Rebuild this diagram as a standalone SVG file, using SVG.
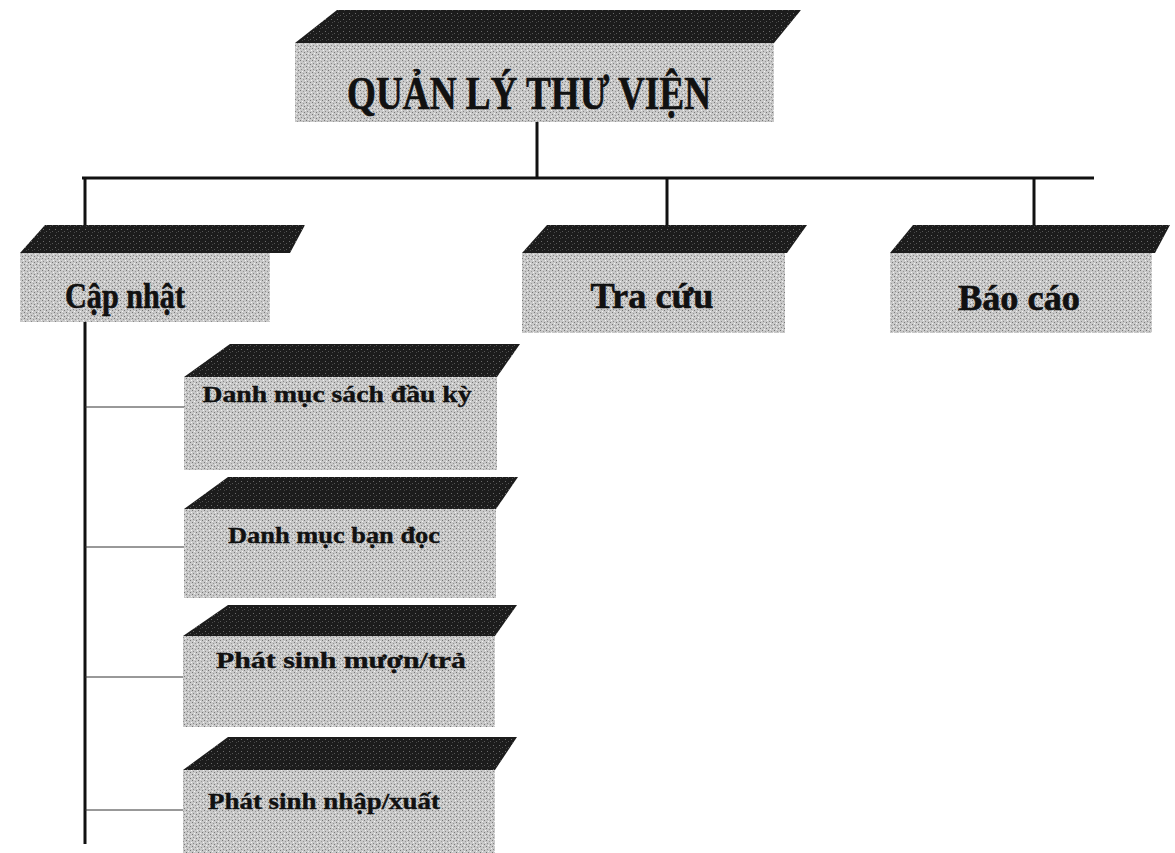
<svg xmlns="http://www.w3.org/2000/svg" width="1175" height="853" viewBox="0 0 1175 853">
<defs>
<pattern id="stip" width="6" height="6" patternUnits="userSpaceOnUse">
<rect width="6" height="6" fill="#c8c8c8"/>
<rect x="0" y="0" width="1" height="1" fill="#777"/>
<rect x="3" y="1" width="1" height="1" fill="#969696"/>
<rect x="1" y="3" width="1" height="1" fill="#888"/>
<rect x="4" y="4" width="1" height="1" fill="#777"/>
<rect x="5" y="2" width="1" height="1" fill="#f2f2f2"/>
<rect x="2" y="5" width="1" height="1" fill="#f2f2f2"/>
</pattern>
<pattern id="dark" width="6" height="6" patternUnits="userSpaceOnUse">
<rect width="6" height="6" fill="#1c1c1c"/>
<rect x="1" y="1" width="1" height="1" fill="#6a6a6a"/>
<rect x="4" y="3" width="1" height="1" fill="#555"/>
<rect x="2" y="4" width="1" height="1" fill="#444"/>
</pattern>
<style>
.front{fill:url(#stip);}
.top{fill:url(#dark);}
.t{font-family:"Liberation Serif","Times New Roman",serif;font-weight:bold;fill:#111;stroke:#111;stroke-width:0.6;text-anchor:middle;}
.l1{font-size:46px;}
.l2{font-size:36px;}
.l3{font-size:24px;stroke-width:0.4;}
.thick{stroke:#111;stroke-width:3;fill:none;}
.thin{stroke:#333;stroke-width:1;fill:none;}
</style>
</defs>

<g id="connectors">
<line class="thick" x1="537" y1="122" x2="537" y2="178"/>
<line class="thick" x1="82" y1="178" x2="1094" y2="178"/>
<line class="thick" x1="85" y1="178" x2="85" y2="226"/>
<line class="thick" x1="667" y1="178" x2="667" y2="226"/>
<line class="thick" x1="1034" y1="178" x2="1034" y2="226"/>
<line class="thick" x1="85" y1="322" x2="85" y2="844"/>
<line class="thin" x1="85" y1="407" x2="185" y2="407"/>
<line class="thin" x1="85" y1="547" x2="185" y2="547"/>
<line class="thin" x1="85" y1="677" x2="185" y2="677"/>
<line class="thin" x1="85" y1="810" x2="185" y2="810"/>
</g>

<g id="root">
<polygon class="top" points="295,43 337,10 801,10 774,43"/>
<rect class="front" x="295" y="43" width="479" height="79"/>
<text class="t l1" x="529" y="109" textLength="364" lengthAdjust="spacingAndGlyphs">QUẢN LÝ THƯ VIỆN</text>
</g>

<g id="cap-nhat">
<polygon class="top" points="20,253 45,225 305,225 290,253"/>
<rect class="front" x="20" y="253" width="250" height="69"/>
<text class="t l2" x="125" y="308" textLength="120" lengthAdjust="spacingAndGlyphs">Cập nhật</text>
</g>

<g id="tra-cuu">
<polygon class="top" points="522,253 547,225 807,225 787,253"/>
<rect class="front" x="522" y="253" width="263" height="80"/>
<text class="t l2" x="652" y="308" textLength="123" lengthAdjust="spacingAndGlyphs">Tra cứu</text>
</g>

<g id="bao-cao">
<polygon class="top" points="890,253 913,225 1170,225 1155,253"/>
<rect class="front" x="890" y="253" width="262" height="80"/>
<text class="t l2" x="1019" y="310" textLength="122" lengthAdjust="spacingAndGlyphs">Báo cáo</text>
</g>

<g id="danh-muc-sach">
<polygon class="top" points="184,377 230,344 520,344 497,377"/>
<rect class="front" x="184" y="377" width="313" height="93"/>
<text class="t l3" x="337" y="402" textLength="269" lengthAdjust="spacingAndGlyphs">Danh mục sách đầu kỳ</text>
</g>

<g id="danh-muc-ban-doc">
<polygon class="top" points="184,509 228,477 518,477 496,509"/>
<rect class="front" x="184" y="509" width="312" height="89"/>
<text class="t l3" x="334" y="543" textLength="212" lengthAdjust="spacingAndGlyphs">Danh mục bạn đọc</text>
</g>

<g id="phat-sinh-muon">
<polygon class="top" points="183,636 228,605 517,605 495,636"/>
<rect class="front" x="183" y="636" width="312" height="91"/>
<text class="t l3" x="341" y="668" textLength="250" lengthAdjust="spacingAndGlyphs">Phát sinh mượn/trả</text>
</g>

<g id="phat-sinh-nhap">
<polygon class="top" points="183,770 228,737 517,737 495,770"/>
<rect class="front" x="183" y="770" width="312" height="83"/>
<text class="t l3" x="324" y="809" textLength="232" lengthAdjust="spacingAndGlyphs">Phát sinh nhập/xuất</text>
</g>
</svg>
